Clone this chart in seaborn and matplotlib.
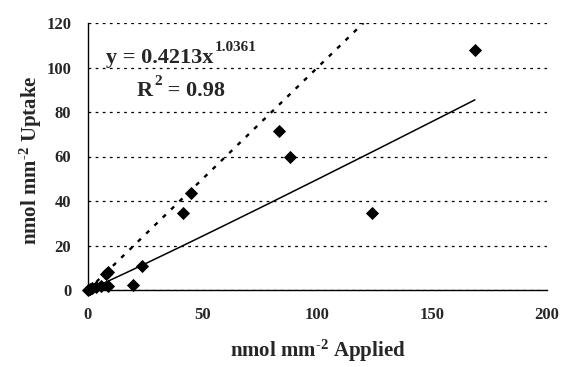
import numpy as np
import pandas as pd
import matplotlib
matplotlib.use("Agg")
import matplotlib.pyplot as plt
import seaborn as sns

# Data
applied = [0.2, 1.0, 1.8, 3.5, 5.5, 8.8, 7.8, 8.8, 19.7, 23.4, 41.4, 44.9, 83.2, 88.0, 123.7, 168.6]
uptake = [0.1, 0.5, 0.8, 1.5, 1.8, 2.0, 7.0, 8.3, 2.2, 10.9, 34.6, 43.6, 71.5, 59.6, 34.6, 107.9]
fit_a = 0.4213
fit_b = 1.0361
r_squared = "0.98"
one_to_one = [0, 120]
xticks = [0, 50, 100, 150, 200]
yticks = [0, 20, 40, 60, 80, 100, 120]

sns.set_style("white")
plt.rcParams['font.family'] = ['Liberation Serif', 'DejaVu Serif']
plt.rcParams['font.weight'] = 'bold'
plt.rcParams['mathtext.fontset'] = 'custom'
plt.rcParams['mathtext.rm'] = 'Liberation Serif:bold'
plt.rcParams['mathtext.bf'] = 'Liberation Serif:bold'
plt.rcParams['mathtext.it'] = 'Liberation Serif:bold'

W, H = 561, 367
fig = plt.figure(figsize=(W/100, H/100), dpi=100)
ax = fig.add_axes([88/W, 1-290/H, (547-88)/W, (290-23)/H])

df = pd.DataFrame({"applied": applied, "uptake": uptake})
xfit = np.linspace(0, max(applied), 200)
fit_df = pd.DataFrame({"x": xfit, "y": fit_a * xfit ** fit_b})
oo_df = pd.DataFrame({"x": one_to_one, "y": one_to_one})

sns.lineplot(data=oo_df, x="x", y="y", ax=ax, color="black", lw=1.7,
             linestyle=(0, (1.8, 3.1)), dash_capstyle='butt')
sns.lineplot(data=fit_df, x="x", y="y", ax=ax, color="black", lw=1.1)
sns.scatterplot(data=df, x="applied", y="uptake", ax=ax, marker="D", s=45,
                color="black", edgecolor="black", linewidth=0, zorder=5, clip_on=False)

ax.set_xlim(0, 200)
ax.set_ylim(0, 120)
ax.set_xticks(xticks)
ax.set_yticks(yticks)
ax.yaxis.grid(True, color="black", linestyle=(0, (2.2, 3.5)), lw=0.9)
ax.set_axisbelow(True)
for s in ["top", "right"]:
    ax.spines[s].set_visible(False)
for s in ["left", "bottom"]:
    ax.spines[s].set_color("black")
    ax.spines[s].set_linewidth(1.0)
ax.tick_params(axis="both", direction="out", length=5, width=1, color="black",
               labelsize=12, pad=7)
for lab in ax.get_xticklabels() + ax.get_yticklabels():
    lab.set_fontweight("bold")

ax.set_xlabel("nmol mm$^{\\mathregular{\u20102}}$ Applied", fontsize=15, fontweight="bold")
ax.set_ylabel("nmol mm$^{\\mathregular{\u20102}}$ Uptake", fontsize=15, fontweight="bold")
ax.xaxis.label.set_va("baseline")
ax.xaxis.set_label_coords(0.5, (290-357)/267)
ax.yaxis.label.set_va("baseline")
ax.yaxis.set_label_coords((37-88)/459, (290-160)/267)

# Trendline annotation (base text + smaller raised exponent)
renderer = fig.canvas.get_renderer()

def sup_text(x, y, base, sup, rest="", size=16, sup_size=11, raise_px=12):
    t1 = fig.text(x, H - y, base, transform=None, fontsize=size, fontweight="bold",
                  va="baseline", ha="left")
    bb = t1.get_window_extent(renderer)
    t2 = fig.text(bb.x1 + 1, H - y + raise_px, sup, transform=None, fontsize=sup_size,
                  fontweight="bold", va="baseline", ha="left")
    if rest:
        bb2 = t2.get_window_extent(renderer)
        fig.text(bb2.x1, H - y, rest, transform=None, fontsize=size, fontweight="bold",
                 va="baseline", ha="left")

sup_text(106, 63, f"y = {fit_a}x", f"{fit_b}")
sup_text(137, 96, "R", "2", f" = {r_squared}", raise_px=11)

fig.savefig("out.png", dpi=100)
